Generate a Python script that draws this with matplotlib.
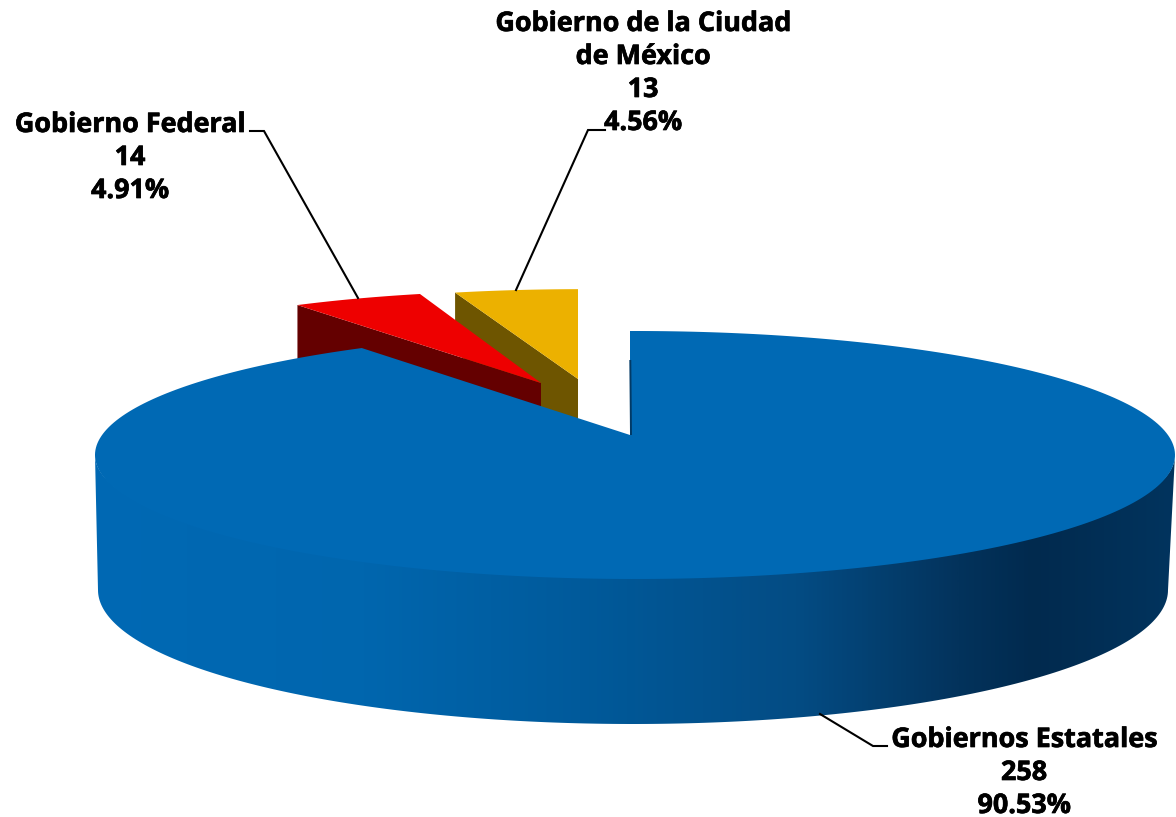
import numpy as np
import matplotlib
matplotlib.use('Agg')
import matplotlib.pyplot as plt
import matplotlib.patheffects as pe
from matplotlib.colors import LinearSegmentedColormap
from matplotlib.patches import Polygon

# data, clockwise from 12 o'clock
labels = [['Gobiernos Estatales'], ['Gobierno Federal'], ['Gobierno de la Ciudad', 'de México']]
values = [258, 14, 13]
colors = ['#0069b4', '#ee0000', '#ecb100']
side_colors = ['#0069b4', '#640000', '#6e5500']

# layout of the drawing, in pixels
W, H = 1176, 817
cx, cy, rx, ry = 635, 455, 540, 124
apex_x, apex_y = 630, 435
ray_y = 439  # rays start a bit below the drawn apex, fits the perspective better
bottom_cx, bottom_cy, bottom_rx, bottom_ry = 633, 590, 535, 134

# exploded slices: shift of the apex and shrink of the radius (perspective)
shift = [(0, 0), (-89, -52), (-52, -56)]
shrink = [(1, 1), (0.908, 0.857), (0.922, 0.832)]
depth = 60

px, py = (apex_x - cx) / rx, (cy - ray_y) / ry


def rim(theta):
    # where a ray from the off-centre apex meets the ellipse
    dx, dy = np.sin(theta), np.cos(theta)
    b = px * dx + py * dy
    t = -b + np.sqrt(b**2 + 1 - px**2 - py**2)
    return cx + rx * (px + t * dx), cy - ry * (py + t * dy)


def ellipse(a, b, r_x, r_y, t):
    return a + r_x * np.sin(t), b - r_y * np.cos(t)


fig = plt.figure(figsize=(W / 100, H / 100), dpi=100)
ax = fig.add_axes([0, 0, 1, 1])

total = sum(values)
shares = [v / total for v in values]
edges = np.concatenate([[0], np.cumsum(shares)]) * 2 * np.pi

# exploded slices first, big one sits over them
for i in [2, 1]:
    t = np.linspace(edges[i], edges[i + 1], 30)
    x, y = rim(t)
    ax_, ay_ = apex_x + shift[i][0], apex_y + shift[i][1]
    x = ax_ + (x - apex_x) * shrink[i][0]
    y = ay_ + (y - ray_y) * shrink[i][1]
    side = [(x[0], y[0]), (ax_, ay_), (ax_, ay_ + depth), (x[0], y[0] + depth)]
    ax.add_patch(Polygon(side, closed=True, fc=side_colors[i], ec='none'))
    top = np.column_stack([np.r_[ax_, x], np.r_[ay_, y]])
    ax.add_patch(Polygon(top, closed=True, fc=colors[i], ec='none'))

# outer wall of the big slice with its horizontal shading
t = np.linspace(np.pi / 2, 3 * np.pi / 2, 200)
tx, ty = ellipse(cx, cy, rx, ry - 4, t)
bx, by = ellipse(bottom_cx, bottom_cy, bottom_rx, bottom_ry, t)
wall = Polygon(np.column_stack([np.r_[tx, bx[::-1]], np.r_[ty, by[::-1]]]), closed=True, fc='none', ec='none')
ax.add_patch(wall)
shade = LinearSegmentedColormap.from_list('shade', [
    (0.00, '#0069b4'), (0.25, '#0066ae'), (0.45, '#005a9b'), (0.65, '#044c84'),
    (0.80, '#03335c'), (0.87, '#012a4e'), (1.00, '#02345e')])
img = ax.imshow(np.linspace(0, 1, 512)[None, :], cmap=shade, aspect='auto',
                extent=[94, 1176, 817, 300], zorder=2)
img.set_clip_path(wall)

# top of the big slice
t = np.linspace(edges[0], edges[1], 300)
x, y = rim(t)
ax.add_patch(Polygon(np.column_stack([np.r_[apex_x, x], np.r_[apex_y, y]]), closed=True,
                     fc=colors[0], ec='none', zorder=3))
ax.plot([630.3, 631], [360, 435], color='#023a66', lw=1.4, zorder=4, solid_capstyle='butt')

# leader lines
leaders = [
    ([820, 873, 887], [714, 746, 746]),
    ([250, 264, 358], [131, 131, 298]),
    ([605, 588, 516], [130, 130, 290]),
]
for lx, ly in leaders:
    ax.plot(lx, ly, color='black', lw=1.5, zorder=5, solid_joinstyle='miter')

# labels
label_pos = [(1024, 740), (130, 125), (643, 24)]
line_gap = 33
for name, v, s, (lab_x, lab_y) in zip(labels, values, shares, label_pos):
    lines = name + [str(v), f'{s * 100:.2f}%']
    for j, line in enumerate(lines):
        ax.text(lab_x, lab_y + j * line_gap, line, ha='center', va='center', fontsize=19.4,
                fontweight='bold', family='Open Sans', color='black', zorder=6,
                path_effects=[pe.withStroke(linewidth=0.5, foreground='black')])

ax.set_xlim(0, W)
ax.set_ylim(H, 0)
ax.axis('off')
fig.savefig('out.png', dpi=100, facecolor='white')
